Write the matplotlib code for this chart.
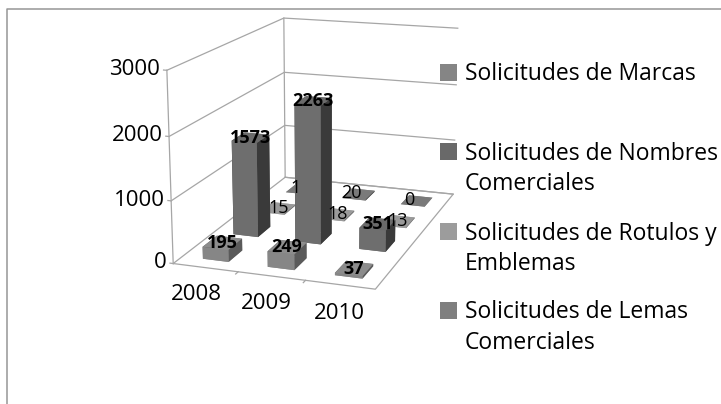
import matplotlib
matplotlib.use('Agg')
import matplotlib.pyplot as plt
from matplotlib.patches import Rectangle

years = ['2008', '2009', '2010']
series = ['Solicitudes de Marcas', 'Solicitudes de Nombres\nComerciales',
          'Solicitudes de Rotulos y\nEmblemas', 'Solicitudes de Lemas\nComerciales']
marcas = [195, 249, 37]
nombres = [1573, 2263, 351]
rotulos = [15, 18, 13]
lemas = [1, 20, 0]
rows = [marcas, nombres, rotulos, lemas]
z_ticks = [0, 1000, 2000, 3000]
# top, front, side colours for each series
face_cols = [('#8c8c8c', '#868686', '#5a5a5a'),
             ('#6b6b6b', '#6e6e6e', '#3a3a3a'),
             ('#9a9a9a', '#9a9a9a', '#6a6a6a'),
             ('#7a7a7a', '#7d7d7d', '#4e4e4e')]
legend_cols = ['#858585', '#696969', '#9c9c9c', '#7f7f7f']
bold = [True, True, False, False]
label_dx = [0.0, 0.0, 0.0, -0.12]

W, H = 721, 404
plt.rcParams['font.family'] = ['Open Sans', 'DejaVu Sans']
fig = plt.figure(figsize=(W/100, H/100), dpi=100)
ax = fig.add_axes([0.052, 0.113, 0.78, 1.06], projection='3d')
ax.set_proj_type('persp', focal_length=0.55)
ax.view_init(elev=15, azim=-71)
ax.set_xlim(0, 3); ax.set_ylim(0, 4); ax.set_zlim(0, 3000)
ax.set_box_aspect((0.92, 1.38, 0.86), zoom=0.91)
ax.set_axis_off()
ax.computed_zorder = False

G = '#a6a6a6'
def ln(xs, ys, zs, z=1):
    ax.plot(xs, ys, zs, color=G, lw=0.9, zorder=z, clip_on=False)
for t in z_ticks:
    ln([0, 0, 3], [0, 4, 4], [t, t, t])
    ln([-0.05, 0], [0, 0], [t, t])
    ax.text(-0.1, 0, t, str(t), fontsize=16, ha='right', va='center', zorder=50, color='k')
ln([0, 0], [0, 0], [0, 3000]); ln([0, 0], [4, 4], [0, 3000])
ln([0, 3, 3, 0], [0, 0, 4, 4], [0, 0, 0, 0])
for i in range(1, 3):
    ln([i, i], [0, -0.08], [0, 0])
for i, y in enumerate(years):
    ax.text(i+0.8, -0.85, 0, y, fontsize=16, ha='center', va='center', zorder=50, color='k')

for r in range(3, -1, -1):
    top, front, side = face_cols[r]
    for i, v in enumerate(rows[r]):
        ax.bar3d(i+0.32, r+0.28, 0, 0.4, 0.45, v,
                 color=[top, top, front, front, side, side], shade=False,
                 zorder=10+(3-r)*3+i*0.1, edgecolor='none')
        ax.text(i+0.52+label_dx[r], r+0.5, v, str(v), fontsize=13, ha='center', va='center',
                fontweight='bold' if bold[r] else 'normal', zorder=40, color='k')

# legend
ys = [72.5, 151.5, 231.5, 310.5]
for name, c, y in zip(series, legend_cols, ys):
    fig.add_artist(Rectangle((440/W, 1-(y+8.5)/H), 17/W, 17/H, color=c, lw=0, transform=fig.transFigure))
    fig.text(465/W, 1-(y-10)/H, name, fontsize=16.5, va='top', ha='left', linespacing=1.38, color='k')
# chart frame
fig.add_artist(plt.Line2D([6.5/W, 6.5/W, 1], [0, 1-9/H, 1-9/H], color='#969696', lw=1.1, transform=fig.transFigure))
fig.savefig('out.png', dpi=100)
